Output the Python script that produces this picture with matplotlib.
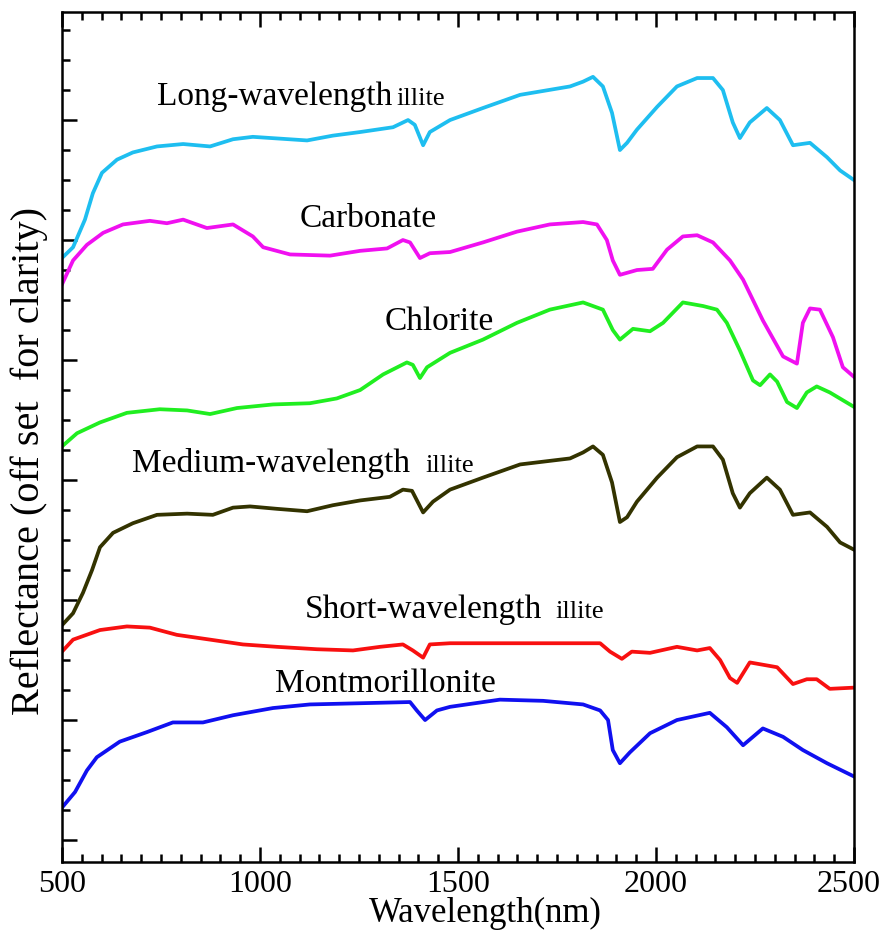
import numpy as np
import matplotlib
matplotlib.use("Agg")
import matplotlib.pyplot as plt
from matplotlib.ticker import MultipleLocator

plt.rcParams['font.family'] = ['Liberation Serif', 'DejaVu Serif']

# spectra (wavelength in nm, reflectance offset for clarity)
wl_long = [500, 528, 558, 578, 601, 639, 679, 740, 806, 874, 932, 982, 1119, 1184, 1253,
           1336, 1374, 1391, 1412, 1429, 1480, 1563, 1657, 1783, 1816, 1841, 1866, 1889,
           1909, 1927, 1952, 2003, 2053, 2104, 2144, 2169, 2194, 2212, 2237, 2280, 2313,
           2346, 2389, 2432, 2465, 2500]
refl_long = [4.85, 4.94, 5.17, 5.39, 5.56, 5.67, 5.73, 5.78, 5.80, 5.78, 5.84, 5.86, 5.83,
             5.87, 5.90, 5.94, 6.00, 5.96, 5.79, 5.90, 6.00, 6.10, 6.21, 6.28, 6.32, 6.36,
             6.28, 6.06, 5.75, 5.81, 5.92, 6.11, 6.28, 6.35, 6.35, 6.25, 5.98, 5.85, 5.98,
             6.10, 6.00, 5.79, 5.81, 5.69, 5.58, 5.50]

wl_carb = [500, 528, 563, 604, 654, 722, 765, 806, 866, 932, 982, 1008, 1076, 1177, 1253,
           1321, 1361, 1379, 1404, 1429, 1480, 1563, 1649, 1732, 1816, 1851, 1876, 1891,
           1909, 1952, 1992, 2028, 2068, 2104, 2144, 2187, 2220, 2270, 2321, 2356, 2371,
           2389, 2414, 2447, 2472, 2500]
refl_carb = [4.63, 4.83, 4.96, 5.06, 5.13, 5.16, 5.14, 5.17, 5.10, 5.13, 5.03, 4.94, 4.88,
             4.87, 4.91, 4.93, 5.00, 4.98, 4.85, 4.89, 4.90, 4.98, 5.07, 5.13, 5.15, 5.13,
             5.00, 4.83, 4.71, 4.75, 4.76, 4.92, 5.03, 5.04, 4.98, 4.83, 4.67, 4.33, 4.03,
             3.97, 4.31, 4.43, 4.42, 4.19, 3.94, 3.86]

wl_chl = [500, 538, 596, 664, 747, 816, 874, 942, 1033, 1126, 1194, 1253, 1311, 1371, 1386,
          1404, 1422, 1480, 1563, 1649, 1732, 1816, 1866, 1891, 1909, 1942, 1985, 2018,
          2068, 2119, 2154, 2179, 2212, 2245, 2263, 2288, 2306, 2331, 2356, 2381, 2406,
          2439, 2500]
refl_chl = [3.28, 3.39, 3.48, 3.56, 3.59, 3.58, 3.55, 3.60, 3.63, 3.64, 3.68, 3.75, 3.88,
            3.98, 3.96, 3.85, 3.94, 4.06, 4.17, 4.31, 4.42, 4.48, 4.42, 4.25, 4.17, 4.26,
            4.24, 4.31, 4.48, 4.45, 4.42, 4.31, 4.08, 3.83, 3.79, 3.88, 3.82, 3.65, 3.60,
            3.73, 3.78, 3.73, 3.61]

wl_med = [500, 528, 553, 576, 596, 629, 679, 740, 816, 881, 932, 975, 1043, 1119, 1184,
          1253, 1328, 1361, 1384, 1412, 1437, 1480, 1563, 1657, 1783, 1816, 1841, 1866,
          1889, 1909, 1927, 1952, 2003, 2053, 2104, 2144, 2169, 2194, 2212, 2237, 2280,
          2313, 2346, 2389, 2432, 2465, 2500]
refl_med = [1.79, 1.89, 2.06, 2.25, 2.44, 2.56, 2.64, 2.71, 2.72, 2.71, 2.77, 2.78, 2.76,
            2.74, 2.79, 2.83, 2.86, 2.92, 2.91, 2.73, 2.82, 2.92, 3.02, 3.13, 3.18, 3.23,
            3.28, 3.21, 2.98, 2.65, 2.69, 2.82, 3.02, 3.19, 3.28, 3.28, 3.17, 2.89, 2.77,
            2.89, 3.02, 2.92, 2.71, 2.73, 2.61, 2.48, 2.42]

wl_short = [500, 528, 596, 664, 722, 790, 874, 957, 1043, 1144, 1235, 1303, 1361, 1386,
            1412, 1429, 1480, 1649, 1859, 1884, 1914, 1939, 1985, 2053, 2104, 2136, 2162,
            2187, 2205, 2237, 2306, 2346, 2381, 2406, 2439, 2500]
refl_short = [1.57, 1.67, 1.75, 1.78, 1.77, 1.71, 1.67, 1.63, 1.61, 1.59, 1.58, 1.61, 1.63,
              1.58, 1.52, 1.63, 1.64, 1.64, 1.64, 1.57, 1.51, 1.57, 1.56, 1.61, 1.58, 1.60,
              1.50, 1.35, 1.31, 1.48, 1.44, 1.30, 1.34, 1.34, 1.26, 1.27]

wl_mont = [500, 533, 563, 588, 646, 715, 780, 856, 932, 1033, 1126, 1253, 1379, 1396, 1417,
           1447, 1480, 1606, 1715, 1816, 1859, 1879, 1891, 1909, 1934, 1985, 2053, 2136,
           2179, 2220, 2270, 2321, 2371, 2432, 2500]
refl_mont = [0.27, 0.40, 0.58, 0.69, 0.82, 0.90, 0.98, 0.98, 1.04, 1.10, 1.13, 1.14, 1.15,
             1.08, 1.00, 1.08, 1.11, 1.17, 1.16, 1.13, 1.08, 1.00, 0.75, 0.64, 0.73, 0.89,
             1.00, 1.06, 0.94, 0.79, 0.93, 0.86, 0.75, 0.64, 0.53]

xtick_vals = [500, 1000, 1500, 2000, 2500]
xtick_text = ['500', '1000', '1500', '2000', '2500']

fig = plt.figure(figsize=(8.84, 9.33), dpi=100)
ax = fig.add_axes([0.0701, 0.0761, 0.8959, 0.9110])

lw = 2.7
ax.plot(wl_long, refl_long, color='#1EBEF0', lw=lw)
ax.plot(wl_carb, refl_carb, color='#F010F0', lw=lw)
ax.plot(wl_chl, refl_chl, color='#20EE20', lw=lw)
ax.plot(wl_med, refl_med, color='#333300', lw=lw)
ax.plot(wl_short, refl_short, color='#F81010', lw=lw)
ax.plot(wl_mont, refl_mont, color='#1010F0', lw=lw)

# labels for each curve
big = 24
small = 19
ax.text(740, 6.125, 'Long-wavelength', fontsize=big, va='baseline')
ax.text(1345, 6.125, 'illite', fontsize=small, va='baseline')
ax.text(1101, 5.11, 'Carbonate', fontsize=big, va='baseline')
ax.text(1316, 4.25, 'Chlorite', fontsize=big, va='baseline')
ax.text(677, 3.07, 'Medium-wavelength', fontsize=big, va='baseline')
ax.text(1417, 3.07, 'illite', fontsize=small, va='baseline')
ax.text(1114, 1.85, 'Short-wavelength', fontsize=big, va='baseline')
ax.text(1747, 1.85, 'illite', fontsize=small, va='baseline')
ax.text(1038, 1.23, 'Montmorillonite', fontsize=big, va='baseline')

ax.set_xlim(500, 2500)
ax.set_ylim(-0.183, 6.9)
# last label sits on the figure edge, so it is drawn separately, nudged inwards
ax.set_xticks(xtick_vals)
ax.set_xticklabels(xtick_text[:-1] + [''])
ax.annotate(xtick_text[-1], xy=(xtick_vals[-1], 0), xycoords=('data', 'axes fraction'),
            xytext=(-4, -6), textcoords='offset points', ha='center', va='top',
            fontsize=23)
ax.xaxis.set_minor_locator(MultipleLocator(50))
ax.yaxis.set_major_locator(MultipleLocator(1))
ax.yaxis.set_minor_locator(MultipleLocator(0.25))
ax.tick_params(which='both', direction='in', top=True, right=False,
               labelleft=False, width=1.8)
ax.tick_params(which='major', length=11)
ax.tick_params(which='minor', length=6)
ax.tick_params(axis='x', labelsize=23, pad=6)
for s in ax.spines.values():
    s.set_linewidth(1.8)

fig.text(0.549, 0.003, 'Wavelength(nm)', fontsize=25, ha='center', va='bottom')
fig.text(0.033, 0.506, 'Reflectance (off set  for clarity)', fontsize=29,
         rotation=90, ha='center', va='center')

fig.savefig('out.png', dpi=100)
